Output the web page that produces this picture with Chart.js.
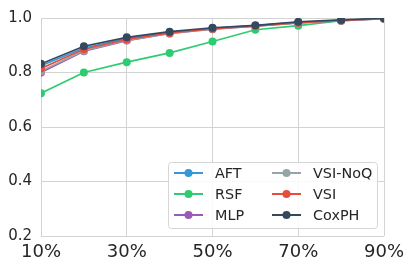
<!DOCTYPE html>
<html>
<head>
<meta charset="utf-8">
<script src="https://cdn.jsdelivr.net/npm/chart.js@4.4.0/dist/chart.umd.min.js"></script>
<style>
  html, body { margin: 0; padding: 0; background: #fff; }
  #wrap { width: 415px; height: 273px; position: relative; }
</style>
</head>
<body>
<div id="wrap"><canvas id="chart"></canvas></div>
<script>
const percents = [10, 20, 30, 40, 50, 60, 70, 80, 90];

const seriesNames = ["AFT", "RSF", "MLP", "VSI-NoQ", "VSI", "CoxPH"];
const seriesColors = ["#3498db", "#2ecc71", "#9b59b6", "#95a5a6", "#e74c3c", "#34495e"];

const aftValues    = [0.825, 0.890, 0.925, 0.947, 0.962, 0.972, 0.984, 0.992, 0.998];
const rsfValues    = [0.724, 0.800, 0.838, 0.872, 0.914, 0.957, 0.972, 0.990, 0.998];
const mlpValues    = [0.800, 0.878, 0.917, 0.943, 0.959, 0.970, 0.982, 0.990, 0.997];
const vsiNoQValues = [0.805, 0.880, 0.918, 0.943, 0.960, 0.970, 0.982, 0.990, 0.997];
const vsiValues    = [0.815, 0.885, 0.921, 0.945, 0.961, 0.971, 0.983, 0.991, 0.998];
const coxphValues  = [0.832, 0.896, 0.929, 0.950, 0.964, 0.973, 0.986, 0.993, 0.999];

const allValues = [aftValues, rsfValues, mlpValues, vsiNoQValues, vsiValues, coxphValues];

const FONT = "'DejaVu Sans', sans-serif";

const datasets = seriesNames.map((name, i) => ({
    label: name,
    data: percents.map((p, k) => ({ x: p, y: allValues[i][k] })),
    borderColor: seriesColors[i],
    backgroundColor: seriesColors[i],
    borderWidth: 1.6,
    pointRadius: 4,
    pointBorderWidth: 0,
    pointHoverRadius: 4,
    clip: 0,
    order: seriesNames.length - i
}));

// two-column legend, column-major, drawn in the lower right of the plot
const boxLegend = {
    id: "boxLegend",
    afterDraw(chart) {
        const ctx = chart.ctx;
        const area = chart.chartArea;
        const bx = area.right - 216, by = area.bottom - 74, bw = 209, bh = 66;
        ctx.save();
        ctx.beginPath();
        ctx.roundRect(bx + 0.5, by + 0.5, bw, bh, 3);
        ctx.fillStyle = "rgba(255,255,255,0.85)";
        ctx.fill();
        ctx.strokeStyle = "#d6d6d6";
        ctx.lineWidth = 1;
        ctx.stroke();
        ctx.font = "14.4px " + FONT;
        ctx.textBaseline = "middle";
        chart.data.datasets.forEach((ds, i) => {
            const col = Math.floor(i / 3), row = i % 3;
            const lx = bx + 6 + col * 98;
            const ly = by + 11 + row * 21;
            ctx.strokeStyle = ds.borderColor;
            ctx.lineWidth = 2;
            ctx.beginPath();
            ctx.moveTo(lx, ly);
            ctx.lineTo(lx + 29, ly);
            ctx.stroke();
            ctx.fillStyle = ds.backgroundColor;
            ctx.beginPath();
            ctx.arc(lx + 14.5, ly, 4, 0, Math.PI * 2);
            ctx.fill();
            ctx.fillStyle = "#262626";
            ctx.fillText(ds.label, lx + 41, ly + 1);
        });
        ctx.restore();
    }
};

new Chart(document.getElementById("chart"), {
    type: "line",
    data: { datasets },
    options: {
        responsive: true,
        maintainAspectRatio: false,
        animation: false,
        layout: { padding: { top: 13, right: 31, left: 0, bottom: 0 } },
        plugins: {
            legend: { display: false },
            tooltip: { enabled: false }
        },
        scales: {
            x: {
                type: "linear",
                min: 10,
                max: 90,
                afterFit(scale) { scale.height = 37; },
                grid: { color: "#d3d3d3", lineWidth: 1, drawTicks: false },
                border: { display: false },
                ticks: {
                    stepSize: 20,
                    padding: 6,
                    color: "#262626",
                    font: { family: FONT, size: 18 },
                    callback: v => v + "%"
                }
            },
            y: {
                min: 0.2,
                max: 1.0,
                afterFit(scale) { scale.width = 41; },
                grid: { color: "#d3d3d3", lineWidth: 1, drawTicks: false },
                border: { display: false },
                ticks: {
                    stepSize: 0.2,
                    padding: 9,
                    color: "#262626",
                    font: { family: FONT, size: 15 },
                    callback: v => v.toFixed(1)
                }
            }
        }
    },
    plugins: [boxLegend]
});
</script>
</body>
</html>
